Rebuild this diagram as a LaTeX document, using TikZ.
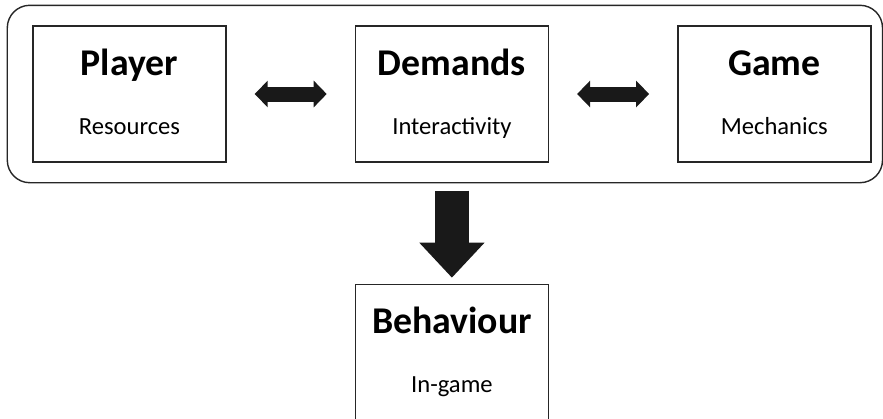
\documentclass[tikz,border=0pt]{standalone}
\usepackage{fontspec}
\setmainfont{Carlito}
\usetikzlibrary{positioning,arrows.meta}

\begin{document}
\begin{tikzpicture}[box/.style = {draw=black!85, line width=0.8pt, minimum width=3.86cm, minimum height=2.72cm, align=center}, node distance={2.56cm},
    fat/.style={line width=3mm, black!90, {Triangle[length=2.6mm,width=5.2mm]}-{Triangle[length=2.6mm,width=5.2mm]}, shorten >=5.6mm, shorten <=5.6mm}]
    \useasboundingbox (0,0) rectangle (17.66,8.36);
        \node[box] (player) at (2.59,6.48) {{\fontsize{21.5}{24}\selectfont\bfseries\strut Player}\\[5mm]{\fontsize{14}{16}\selectfont\strut Resources}};
        \node[box] (demands) [right=of player] {{\fontsize{21.5}{24}\selectfont\bfseries\strut Demands}\\[5mm]{\fontsize{14}{16}\selectfont\strut Interactivity}};
        \node[box] (game) [right=of demands] {{\fontsize{21.5}{24}\selectfont\bfseries\strut Game}\\[5mm]{\fontsize{14}{16}\selectfont\strut Mechanics}};
        \node[box] (behaviour) [below=2.42cm of demands] {{\fontsize{21.5}{24}\selectfont\bfseries\strut Behaviour}\\[5mm]{\fontsize{14}{16}\selectfont\strut In-game}};
        \draw[black!85, line width=0.8pt, rounded corners=4.5mm] ([xshift=-5mm,yshift=4mm]player.north west) rectangle ([xshift=2.2mm,yshift=-4mm]game.south east);
        \draw[fat] (player) -- (demands);
        \draw[fat] (demands) -- (game);
        \draw[line width=6.8mm, black!90, -{Triangle[length=7mm,width=12.6mm]}, shorten <=5.6mm, shorten >=1.2mm] (demands) -- (behaviour);
    \end{tikzpicture}
\end{document}
